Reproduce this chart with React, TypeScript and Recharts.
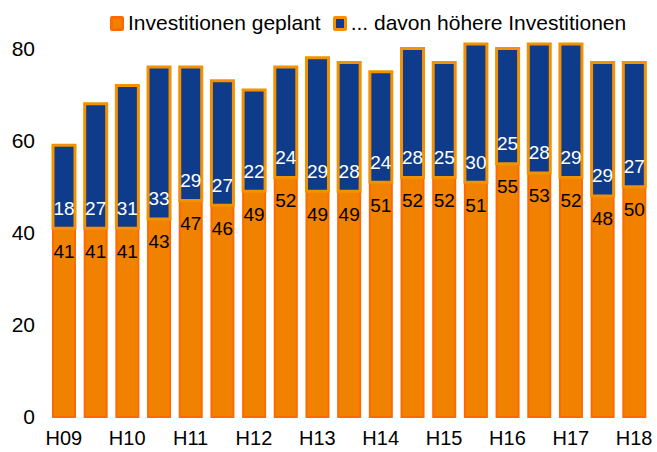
import React from 'react';
import { BarChart, Bar, XAxis, YAxis, LabelList } from 'recharts';

// Halbjahre; nur jede zweite Beschriftung wird angezeigt
const categories = ['H09', 'F10', 'H10', 'F11', 'H11', 'F12', 'H12', 'F13', 'H13', 'F14', 'H14', 'F15', 'H15', 'F16', 'H16', 'F17', 'H17', 'F18', 'H18'];
const geplant = [41, 41, 41, 43, 47, 46, 49, 52, 49, 49, 51, 52, 52, 51, 55, 53, 52, 48, 50];
const hoeher = [18, 27, 31, 33, 29, 27, 22, 24, 29, 28, 24, 28, 25, 30, 25, 28, 29, 29, 27];
const yTicks = [0, 20, 40, 60, 80];

const ORANGE = '#f08200';
const ORANGE_EDGE = '#ff6a00';
const BLUE = '#0f3b8b';
const BLUE_EDGE = '#f39100';
const FONT = '"Liberation Sans", Arial, sans-serif';

const data = categories.map((c, i) => ({ name: c, geplant: geplant[i], hoeher: hoeher[i] }));

// Beschriftung oben im orangen Segment
const InsideEndLabel = (props: any) => {
  const { x, y, width, value } = props;
  return (
    <text x={x + width / 2} y={y + 23} textAnchor="middle" dominantBaseline="central" fontSize={19} fill="#000" fontFamily={FONT}>
      {value}
    </text>
  );
};

// Beschriftung unten im blauen Segment
const InsideBaseLabel = (props: any) => {
  const { x, y, width, height, value } = props;
  return (
    <text x={x + width / 2} y={y + height - 20} textAnchor="middle" dominantBaseline="central" fontSize={19} fill="#fff" fontFamily={FONT}>
      {value}
    </text>
  );
};

const LegendBox = ({ fill, edge }: { fill: string; edge: string }) => (
  <span style={{ display: 'inline-block', width: 8, height: 9, background: fill, border: `3px solid ${edge}`, marginRight: 4, verticalAlign: 'middle', borderRadius: 2 }} />
);

const App: React.FC = () => {
  return (
    <div style={{ position: 'absolute', left: 0, top: 0, width: 657, height: 452, background: '#fff', fontFamily: FONT }}>
      <div style={{ position: 'absolute', top: 9, left: 110, fontSize: 21, color: '#000', whiteSpace: 'nowrap', lineHeight: '26px' }}>
        <LegendBox fill={ORANGE} edge={ORANGE_EDGE} />
        <span style={{ verticalAlign: 'middle' }}>Investitionen geplant</span>
        <span style={{ display: 'inline-block', width: 12 }} />
        <LegendBox fill={BLUE} edge={BLUE_EDGE} />
        <span style={{ verticalAlign: 'middle' }}>... davon höhere Investitionen</span>
      </div>
      <BarChart width={657} height={452} data={data} margin={{ top: 44, right: 7, bottom: 5, left: 0 }}>
        <XAxis
          dataKey="name"
          interval={0}
          axisLine={false}
          tickLine={false}
          height={30}
          tickMargin={8}
          tick={{ fontSize: 20, fill: '#000', fontFamily: FONT }}
          tickFormatter={(v: string, i: number) => (i % 2 === 0 ? v : '')}
        />
        <YAxis
          domain={[0, 80]}
          ticks={yTicks}
          width={48}
          axisLine={false}
          tickLine={false}
          tickMargin={7}
          tick={{ fontSize: 21, fill: '#000', fontFamily: FONT }}
        />
        <Bar dataKey="geplant" stackId="a" fill={ORANGE} stroke={ORANGE_EDGE} strokeWidth={2} barSize={22} isAnimationActive={false}>
          <LabelList dataKey="geplant" content={InsideEndLabel} />
        </Bar>
        <Bar dataKey="hoeher" stackId="a" fill={BLUE} stroke={BLUE_EDGE} strokeWidth={3} barSize={22} isAnimationActive={false}>
          <LabelList dataKey="hoeher" content={InsideBaseLabel} />
        </Bar>
      </BarChart>
    </div>
  );
};

export default App;
